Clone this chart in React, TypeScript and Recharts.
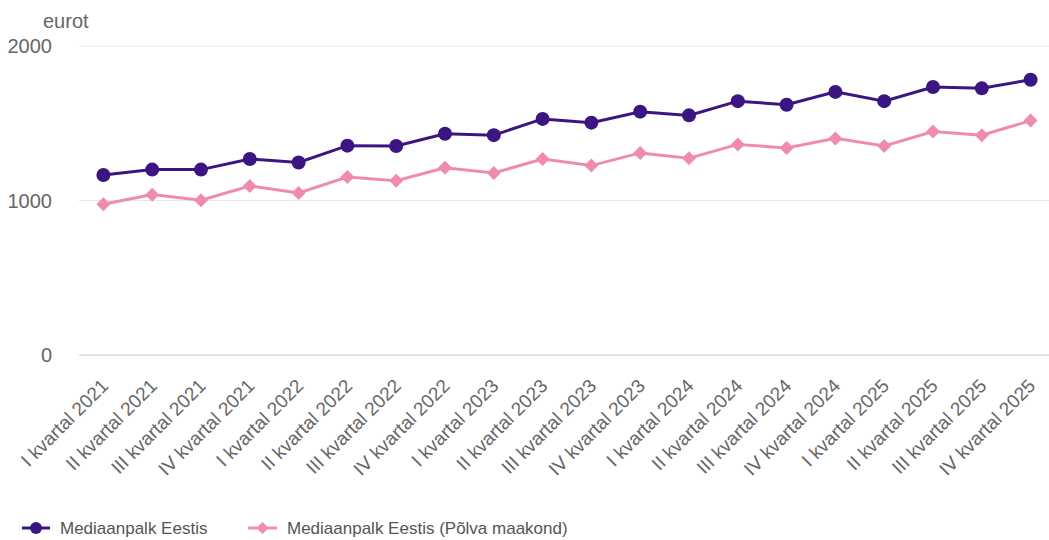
import React from 'react';
import { LineChart, Line, XAxis, YAxis, CartesianGrid, Legend } from 'recharts';

const categories = [
  'I kvartal 2021', 'II kvartal 2021', 'III kvartal 2021', 'IV kvartal 2021',
  'I kvartal 2022', 'II kvartal 2022', 'III kvartal 2022', 'IV kvartal 2022',
  'I kvartal 2023', 'II kvartal 2023', 'III kvartal 2023', 'IV kvartal 2023',
  'I kvartal 2024', 'II kvartal 2024', 'III kvartal 2024', 'IV kvartal 2024',
  'I kvartal 2025', 'II kvartal 2025', 'III kvartal 2025', 'IV kvartal 2025',
];

const eestis = [1165, 1200, 1200, 1269, 1246, 1355, 1353, 1432, 1423, 1528, 1504, 1575, 1551, 1643, 1620, 1703, 1643, 1735, 1726, 1782];
const polva = [976, 1038, 1002, 1094, 1049, 1152, 1128, 1212, 1178, 1269, 1226, 1308, 1274, 1363, 1340, 1402, 1353, 1447, 1423, 1517];

const yTicks = [0, 1000, 2000];
const seriesNames = ['Mediaanpalk Eestis', 'Mediaanpalk Eestis (Põlva maakond)'];
const colors = ['#3b1582', '#f08cab'];

const data = categories.map((c, i) => ({ name: c, eestis: eestis[i], polva: polva[i] }));

const FONT = '"Liberation Sans", Arial, sans-serif';

const XTick = (props: any) => {
  const { x, y, payload } = props;
  return (
    <g transform={`translate(${x + 6},${y + 32})`}>
      <text x={0} y={0} transform="rotate(-45)" textAnchor="end" fill="#666666" fontSize={19} fontFamily={FONT}>
        {payload.value}
      </text>
    </g>
  );
};

const Diamond = (props: any) => {
  const { cx, cy, fill } = props;
  if (cx == null || cy == null) return null;
  const r = 7;
  return <polygon points={`${cx},${cy - r} ${cx + r},${cy} ${cx},${cy + r} ${cx - r},${cy}`} fill={fill} />;
};

const Circle = (props: any) => {
  const { cx, cy, fill } = props;
  if (cx == null || cy == null) return null;
  return <circle cx={cx} cy={cy} r={7} fill={fill} />;
};

const LegendContent = () => {
  return (
    <div style={{ height: 24, width: 1049 }}>
      <svg width={700} height={24} style={{ display: 'block' }}>
        <g>
          <line x1={22} y1={12} x2={50} y2={12} stroke={colors[0]} strokeWidth={3} />
          <circle cx={36} cy={12} r={6} fill={colors[0]} />
          <text x={60} y={12} dominantBaseline="central" fontSize={17} fill="#555555" fontFamily={FONT}>
            {seriesNames[0]}
          </text>
        </g>
        <g>
          <line x1={248} y1={12} x2={277} y2={12} stroke={colors[1]} strokeWidth={3} />
          <polygon points="262.5,6 268.5,12 262.5,18 256.5,12" fill={colors[1]} />
          <text x={287} y={12} dominantBaseline="central" fontSize={17} fill="#555555" fontFamily={FONT}>
            {seriesNames[1]}
          </text>
        </g>
      </svg>
    </div>
  );
};

const YTitle = (props: any) => {
  const { viewBox } = props;
  return (
    <text x={43} y={viewBox.y - 18} fontSize={20} fill="#666666" fontFamily={FONT}>
      eurot
    </text>
  );
};

export default function App() {
  return (
    <div style={{ position: 'absolute', left: 0, top: 0, width: 1049, height: 540, overflow: 'hidden', background: '#fff' }}>
      <LineChart
        width={1055}
        height={540}
        data={data}
        margin={{ top: 46, right: 0, bottom: 0, left: 0 }}
      >
        <CartesianGrid vertical={false} stroke="#e6e6e6" />
        <XAxis
          dataKey="name"
          scale="band"
          interval={0}
          height={161}
          tickSize={0}
          tickMargin={0}
          tickLine={false}
          axisLine={{ stroke: '#ccd6eb' }}
          tick={<XTick />}
        />
        <YAxis
          domain={[0, 2000]}
          ticks={yTicks}
          width={79}
          tickSize={0}
          tickMargin={27}
          tickLine={false}
          axisLine={false}
          tick={{ fill: '#666666', fontSize: 20, fontFamily: FONT }}
          label={<YTitle />}
        />
        <Legend verticalAlign="bottom" align="left" content={<LegendContent />} wrapperStyle={{ left: 0 }} />
        <Line
          dataKey="eestis"
          name={seriesNames[0]}
          stroke={colors[0]}
          strokeWidth={3}
          dot={<Circle fill={colors[0]} />}
          activeDot={false}
          isAnimationActive={false}
        />
        <Line
          dataKey="polva"
          name={seriesNames[1]}
          stroke={colors[1]}
          strokeWidth={3}
          dot={<Diamond fill={colors[1]} />}
          activeDot={false}
          isAnimationActive={false}
        />
      </LineChart>
    </div>
  );
}
